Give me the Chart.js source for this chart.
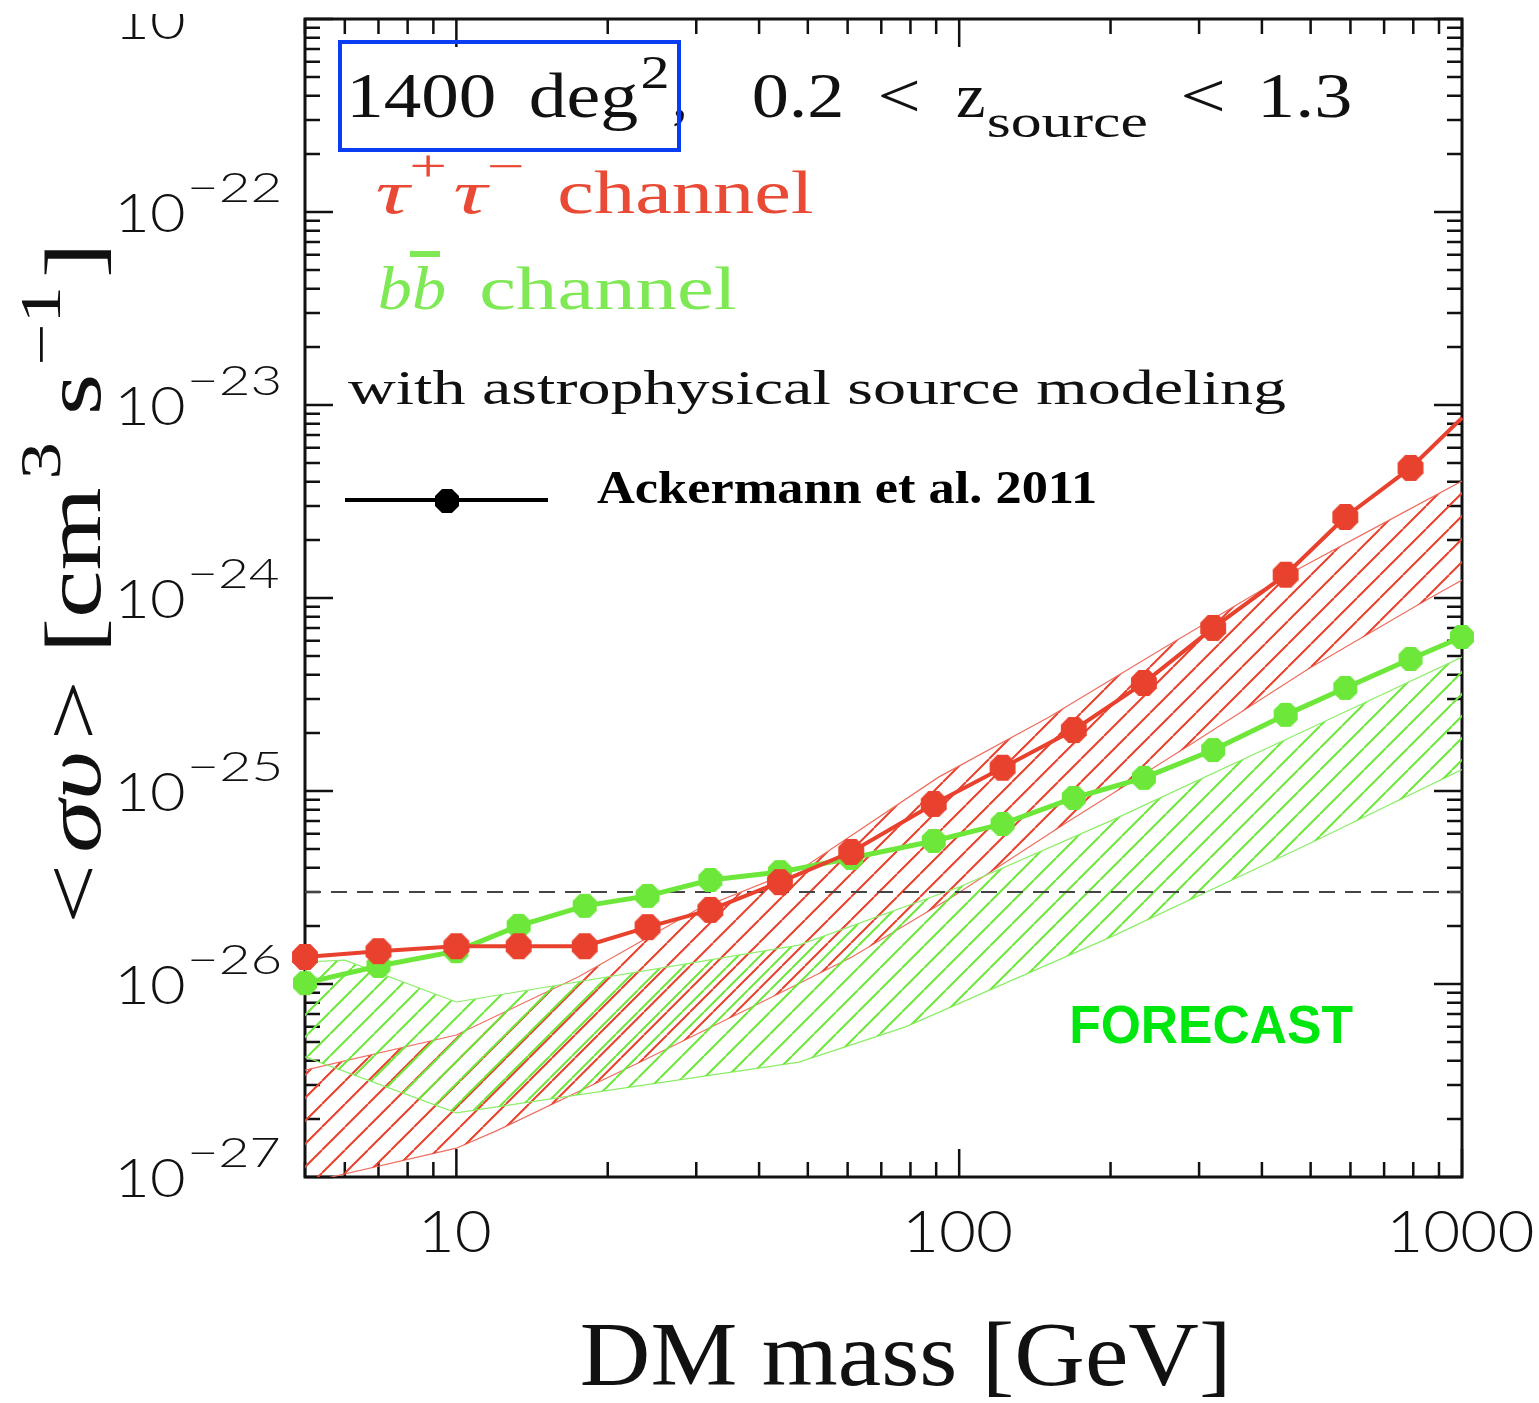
<!DOCTYPE html>
<html><head><meta charset="utf-8">
<script src="https://cdn.jsdelivr.net/npm/chart.js@4/dist/chart.umd.min.js"></script>
<style>html,body{margin:0;padding:0;background:#fff}canvas{display:block}</style>
</head><body>
<canvas id="c" width="1539" height="1403"></canvas>
<script>
// ---------------- data ----------------
const masses   = [5, 7, 10, 13.3, 18, 24, 32, 44, 61, 89, 122, 169, 233, 320, 446, 586, 790, 1000];
const tauLimit = [1.38e-26, 1.48e-26, 1.57e-26, 1.57e-26, 1.57e-26, 1.97e-26, 2.42e-26, 3.37e-26, 4.83e-26,
                  8.57e-26, 1.32e-25, 2.07e-25, 3.63e-25, 7.0e-25, 1.32e-24, 2.63e-24, 4.72e-24, 8.57e-24];
const tauMarkerShown = [1,1,1,1,1,1,1,1,1,1,1,1,1,1,1,1,1,0];
const bbLimit  = [1.01e-26, 1.24e-26, 1.48e-26, 2.0e-26, 2.54e-26, 2.86e-26, 3.46e-26, 3.80e-26, 4.5e-26,
                  5.51e-26, 6.75e-26, 9.2e-26, 1.17e-25, 1.63e-25, 2.48e-25, 3.42e-25, 4.83e-25, 6.28e-25];

const tauBandUpperMass = [5, 10, 17.5, 30, 49.5, 91, 151, 257, 450, 700, 1000];
const tauBandUpper     = [3.58e-27, 5.44e-27, 1.09e-26, 2.42e-26, 4.08e-26, 1.18e-25, 2.42e-25, 5.57e-25, 1.32e-24, 2.45e-24, 4.04e-24];
const tauBandLowerMass = [5, 5.64, 10, 12.1, 23, 38.7, 61.2, 96.8, 163, 291, 498, 836, 1000];
const tauBandLower     = [9.1e-28, 1.0e-27, 1.41e-27, 1.75e-27, 3.90e-27, 7.60e-27, 1.38e-26, 2.82e-26, 6.83e-26, 1.77e-25, 4.34e-25, 9.53e-25, 1.24e-24];
const bbBandUpperMass  = [5, 6, 10, 48, 100, 200, 500, 1000];
const bbBandUpper      = [1.30e-26, 1.33e-26, 8.07e-27, 1.59e-26, 3.18e-26, 7.0e-26, 2.12e-25, 4.94e-25];
const bbBandLowerMass  = [5, 10, 48, 78, 200, 500, 1000];
const bbBandLower      = [4.19e-27, 2.15e-27, 3.94e-27, 5.98e-27, 1.75e-26, 5.38e-26, 1.29e-25];

const thermalMass  = [5, 1000];
const thermalRelic = [3e-26, 3e-26];

const xMajorTicks = [10, 100, 1000];
const xTickLabels = ['10', '100', '1000'];
const yMajorExponents = [-27, -26, -25, -24, -23, -22, -21];

// ---------------- styling helpers ----------------
const RED = '#e8412d', GREEN = '#6de83a';
const canvas = document.getElementById('c');
const ctx0 = canvas.getContext('2d');

function hatch(color, step, lw) {
  const c = document.createElement('canvas'); c.width = c.height = step;
  const g = c.getContext('2d'); g.strokeStyle = color; g.lineWidth = lw;
  g.beginPath();
  for (const o of [-step, 0, step]) { g.moveTo(o, step); g.lineTo(o + step, 0); }
  g.stroke();
  return ctx0.createPattern(c, 'repeat');
}
function octagon(color, r) {
  const s = Math.ceil(2 * r + 2);
  const c = document.createElement('canvas'); c.width = c.height = s;
  const g = c.getContext('2d'); g.fillStyle = color; g.beginPath();
  for (let i = 0; i < 8; i++) {
    const a = Math.PI / 8 + i * Math.PI / 4;
    const px = s / 2 + r * Math.cos(a), py = s / 2 + r * Math.sin(a);
    i ? g.lineTo(px, py) : g.moveTo(px, py);
  }
  g.closePath(); g.fill();
  return c;
}
const pts = (xs, ys) => xs.map((m, i) => ({x: m, y: ys[i]}));

// draws rich text so that its ink spans x0..x1 on the given baseline
function fitText(ctx, parts, x0, x1, baseline) {
  ctx.save();
  ctx.textAlign = 'left'; ctx.textBaseline = 'alphabetic';
  let adv = 0;
  parts.forEach(p => {
    ctx.font = p.font;
    const m = ctx.measureText(p.t);
    p.w = m.width; p.bl = m.actualBoundingBoxLeft; p.br = m.actualBoundingBoxRight;
    p.x = adv + (p.dx || 0); adv = p.x + p.w;
  });
  const f = parts[0], l = parts[parts.length - 1];
  const inkL = f.x - f.bl, inkR = l.x + l.br;
  const s = (x1 - x0) / (inkR - inkL);
  ctx.translate(x0 - inkL * s, baseline); ctx.scale(s, 1);
  parts.forEach(p => { ctx.font = p.font; ctx.fillStyle = p.color || '#000'; ctx.fillText(p.t, p.x, p.dy || 0); });
  ctx.restore();
}
// draws text with a horizontal stretch sx, ink centred on cx
function centredText(ctx, t, cx, baseline, font, sx) {
  ctx.save();
  ctx.textAlign = 'left'; ctx.textBaseline = 'alphabetic'; ctx.font = font;
  const m = ctx.measureText(t);
  const w = (m.actualBoundingBoxLeft + m.actualBoundingBoxRight) * sx;
  fitText(ctx, [{t, font, color: ctx.fillStyle}], cx - w / 2, cx + w / 2, baseline);
  ctx.restore();
}

const SERIF = '"Liberation Serif", "DejaVu Serif", serif';
const SANS = 'Lato, "Liberation Sans", sans-serif';
const INK = '#111';

const deco = {
  id: 'deco',
  beforeDraw(chart) {
    const c = chart.ctx; c.save(); c.fillStyle = '#fff'; c.fillRect(0, 0, chart.width, chart.height); c.restore();
  },
  beforeDatasetsDraw(chart) {
    const {ctx, chartArea: a, scales: {x, y}} = chart;
    ctx.save();
    ctx.strokeStyle = INK; ctx.lineWidth = 2.5; ctx.lineCap = 'butt';
    const MAJ = 28, MIN = 15;
    const xt = [];
    [1, 10, 100].forEach(d => { for (let k = 2; k <= 9; k++) { const v = k * d; if (v >= 5 && v <= 1000) xt.push([v, MIN]); } });
    xMajorTicks.forEach(v => xt.push([v, MAJ]));
    ctx.beginPath();
    xt.forEach(([v, L]) => {
      const px = x.getPixelForValue(v);
      ctx.moveTo(px, a.bottom); ctx.lineTo(px, a.bottom - L);
      ctx.moveTo(px, a.top); ctx.lineTo(px, a.top + L);
    });
    const yt = [];
    yMajorExponents.forEach(e => {
      yt.push([Math.pow(10, e), MAJ]);
      if (e < -21) for (let k = 2; k <= 9; k++) yt.push([k * Math.pow(10, e), MIN]);
    });
    yt.forEach(([v, L]) => {
      const py = y.getPixelForValue(v);
      ctx.moveTo(a.left, py); ctx.lineTo(a.left + L, py);
      ctx.moveTo(a.right, py); ctx.lineTo(a.right - L, py);
    });
    ctx.stroke();
    ctx.lineWidth = 3;
    ctx.strokeRect(a.left, a.top, a.right - a.left, a.bottom - a.top);
    ctx.restore();
  },
  afterDraw(chart) {
    const {ctx, chartArea: a, scales: {x, y}} = chart;
    ctx.save();
    // y tick labels
    yMajorExponents.forEach(e => {
      const py = y.getPixelForValue(Math.pow(10, e));
      ctx.save();
      if (e === -21) { ctx.beginPath(); ctx.rect(0, 14, 300, 60); ctx.clip(); }
      fitText(ctx, [{t: '10', font: '300 54px ' + SANS, color: INK}], 120, 184, py + 20);
      if (e !== -21) fitText(ctx, [{t: '\u2212' + (-e), font: '300 42px ' + SANS, color: INK}], 191, 279, py - 10);
      ctx.restore();
    });
    // x tick labels
    ctx.fillStyle = INK;
    xMajorTicks.forEach((v, i) => centredText(ctx, xTickLabels[i], x.getPixelForValue(v), a.bottom + 75, '300 57px ' + SANS, 1.12));

    // axis titles
    fitText(ctx, [{t: 'DM mass [GeV]', font: '90px ' + SERIF, color: INK}], 582, 1225, 1385);
    ctx.save();
    ctx.translate(100, 920); ctx.rotate(-Math.PI / 2);
    fitText(ctx, [
      {t: '<', font: '80px ' + SERIF, color: INK},
      {t: '\u03c3\u03c5', font: 'italic 80px ' + SERIF, dx: 8, color: INK},
      {t: '>', font: '80px ' + SERIF, dx: 8, color: INK},
      {t: ' [cm', font: '80px ' + SERIF, color: INK},
      {t: '3', font: '56px ' + SERIF, dy: -40, dx: 6, color: INK},
      {t: ' s', font: '80px ' + SERIF, color: INK},
      {t: '\u22121', font: '56px ' + SERIF, dy: -40, dx: 6, color: INK},
      {t: ']', font: '80px ' + SERIF, dx: 6, color: INK}
    ], 0, 670, 0);
    ctx.restore();

    // annotations
    fitText(ctx, [{t: '1400', font: '64px ' + SERIF, color: INK}], 352, 494, 117);
    fitText(ctx, [{t: 'deg', font: '64px ' + SERIF, color: INK}], 531, 637, 117);
    fitText(ctx, [{t: '2', font: '46px ' + SERIF, color: INK}], 643, 667, 88);
    ctx.font = '64px ' + SERIF; ctx.textAlign = 'left'; ctx.fillStyle = INK; ctx.fillText(',', 672, 117);
    fitText(ctx, [{t: '0.2', font: '64px ' + SERIF, color: INK}], 754, 841, 117);
    fitText(ctx, [{t: '<', font: '64px ' + SERIF, color: INK}], 881, 917, 117);
    fitText(ctx, [{t: 'z', font: '64px ' + SERIF, color: INK}], 957, 984, 117);
    fitText(ctx, [{t: 'source', font: '46px ' + SERIF, color: INK}], 988, 1146, 137);
    fitText(ctx, [{t: '<', font: '64px ' + SERIF, color: INK}], 1184, 1222, 117);
    fitText(ctx, [{t: '1.3', font: '64px ' + SERIF, color: INK}], 1263, 1350, 117);
    ctx.strokeStyle = '#0a3cf2'; ctx.lineWidth = 4;
    ctx.strokeRect(340, 42, 339, 108);

    const RT = '#e84a35', GT = '#7ee855';
    fitText(ctx, [
      {t: '\u03c4', font: 'italic 62px ' + SERIF, color: RT},
      {t: '+', font: '44px ' + SERIF, dy: -32, color: RT},
      {t: '\u03c4', font: 'italic 62px ' + SERIF, dx: 4, color: RT},
      {t: '\u2212', font: '44px ' + SERIF, dy: -32, color: RT}
    ], 377, 522, 213);
    fitText(ctx, [{t: 'channel', font: '62px ' + SERIF, color: RT}], 560, 812, 213);
    fitText(ctx, [{t: 'bb', font: 'italic 62px ' + SERIF, color: GT}], 380, 445, 309);
    fitText(ctx, [{t: 'channel', font: '62px ' + SERIF, color: GT}], 482, 735, 309);
    ctx.fillStyle = GT; ctx.fillRect(410, 251, 30, 6);

    fitText(ctx, [{t: 'with astrophysical source modeling', font: '48px ' + SERIF, color: INK}], 348, 1286, 404);

    // reference legend entry
    ctx.strokeStyle = '#000'; ctx.lineWidth = 4;
    ctx.beginPath(); ctx.moveTo(345, 500); ctx.lineTo(548, 500); ctx.stroke();
    const bm = octagon('#000', 13); ctx.drawImage(bm, 447 - bm.width / 2, 501 - bm.height / 2);
    fitText(ctx, [{t: 'Ackermann et al. 2011', font: 'bold 46px ' + SERIF, color: '#000'}], 597, 1095, 503);

    fitText(ctx, [{t: 'FORECAST', font: 'bold 54px "Liberation Sans", Arial, sans-serif', color: '#00e60f'}], 1072, 1353, 1043);
    ctx.restore();
  }
};

const redMarker = octagon(RED, 14), greenMarker = octagon(GREEN, 13);

new Chart(canvas, {
  type: 'line',
  data: {
    datasets: [
      { label: 'tau', data: pts(masses, tauLimit), borderColor: RED, borderWidth: 4, backgroundColor: RED,
        pointStyle: redMarker, pointRadius: tauMarkerShown.map(s => s ? 13 : 0), fill: false, order: 0,
        clip: {left: 30, right: 30, top: 0, bottom: 0} },
      { label: 'bb', data: pts(masses, bbLimit), borderColor: GREEN, borderWidth: 5, backgroundColor: GREEN,
        pointStyle: greenMarker, pointRadius: 12, fill: false, order: 1,
        clip: {left: 30, right: 30, top: 0, bottom: 0} },
      { label: 'thermal', data: pts(thermalMass, thermalRelic), borderColor: '#444', borderWidth: 2,
        borderDash: [16, 10], pointRadius: 0, fill: false, order: 2 },
      { label: 'tau band upper', data: pts(tauBandUpperMass, tauBandUpper), borderColor: '#ee6e60', borderWidth: 1.2,
        pointRadius: 0, fill: 4, backgroundColor: hatch(RED, 23, 2), order: 4 },
      { label: 'tau band lower', data: pts(tauBandLowerMass, tauBandLower), borderColor: '#ee6e60', borderWidth: 1.2,
        pointRadius: 0, fill: false, order: 4 },
      { label: 'bb band upper', data: pts(bbBandUpperMass, bbBandUpper), borderColor: '#8aee66', borderWidth: 1.2,
        pointRadius: 0, fill: 6, backgroundColor: hatch(GREEN, 22, 2), order: 3 },
      { label: 'bb band lower', data: pts(bbBandLowerMass, bbBandLower), borderColor: '#8aee66', borderWidth: 1.2,
        pointRadius: 0, fill: false, order: 3 }
    ]
  },
  options: {
    responsive: false, animation: false, devicePixelRatio: 1,
    layout: {padding: {left: 305, right: 77, top: 19, bottom: 226}},
    elements: {line: {tension: 0}},
    plugins: {legend: {display: false}, tooltip: {enabled: false}},
    events: [],
    scales: {
      x: {type: 'logarithmic', min: 5, max: 1000, display: false},
      y: {type: 'logarithmic', min: 1e-27, max: 1e-21, display: false}
    }
  },
  plugins: [deco]
});
</script>
</body></html>
